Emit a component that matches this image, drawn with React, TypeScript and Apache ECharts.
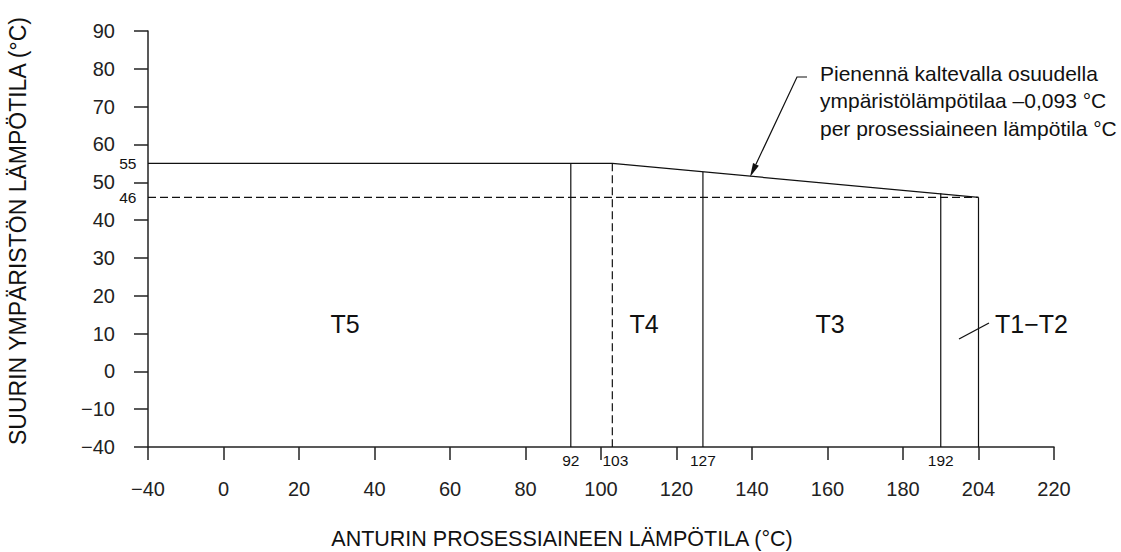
import React, { useEffect, useRef } from "react";
import * as echarts from "echarts";

// Axis ticks (the drawing uses a broken scale: ticks are evenly spaced)
const xTickValues = [-40, 0, 20, 40, 60, 80, 100, 120, 140, 160, 180, 204, 220];
const yTickValues = [-40, -10, 0, 10, 20, 30, 40, 50, 60, 70, 80, 90];

// Limit curves (process temperature, max ambient temperature)
const upperLimit: [number, number][] = [[-40, 55], [103, 55], [204, 46]];
const lowerLimit: [number, number][] = [[-40, 46], [204, 46]];

// Temperature class boundaries
const boundaryX = [92, 103, 127, 192, 204];
const boundaryTop = [55, 55, 52.7, 47.1, 46];
const boundaryDashed = [false, true, false, false, false];
const boundaryLabelled = [true, true, true, true, false];
const boundaryBottom = -40;

const zoneLabels = ["T5", "T4", "T3", "T1−T2"];
const noteLines = [
  "Pienennä kaltevalla osuudella",
  "ympäristölämpötilaa –0,093 °C",
  "per prosessiaineen lämpötila °C",
];
const xName = "ANTURIN PROSESSIAINEEN LÄMPÖTILA (°C)";
const yName = "SUURIN YMPÄRISTÖN LÄMPÖTILA (°C)";

function brokenScale(ticks: number[], step: number, start: number) {
  return (v: number) => {
    for (let i = 0; i < ticks.length - 1; i++) {
      if (v <= ticks[i + 1] || i === ticks.length - 2) {
        const t = (v - ticks[i]) / (ticks[i + 1] - ticks[i]);
        return start + step * (i + t);
      }
    }
    return start;
  };
}
const sx = brokenScale(xTickValues, 20, -20);
const sy = brokenScale(yTickValues, 10, -20);
const fmt = (n: number) => String(n).replace("-", "\u2212");

const FONT = "Liberation Sans, Arial, sans-serif";
const INK = "#111";

export default function App() {
  const ref = useRef<HTMLDivElement>(null);
  useEffect(() => {
    document.body.style.margin = "0";
    const chart = echarts.init(ref.current!, null, { renderer: "svg" });

    const smallLabel = (text: string, position: string, distance: number, offset: number[] = [0, 0]) => ({
      show: true,
      position,
      distance,
      offset,
      formatter: text,
      color: INK,
      fontFamily: FONT,
      fontSize: 15.5,
    });

    const base = {
      type: "line",
      symbol: "circle",
      symbolSize: 1,
      itemStyle: { color: "rgba(0,0,0,0)" },
      silent: true,
      emphasis: { disabled: true },
      z: 3,
    };

    const series: any[] = [
      {
        ...base,
        data: upperLimit.map((p, i) => ({
          value: [sx(p[0]), sy(p[1])],
          label: i === 0 ? smallLabel(String(p[1]), "left", 11) : { show: false },
        })),
        lineStyle: { color: INK, width: 1.2 },
      },
      {
        ...base,
        data: lowerLimit.map((p, i) => ({
          value: [sx(p[0]), sy(p[1])],
          label: i === 0 ? smallLabel(String(p[1]), "left", 11) : { show: false },
        })),
        lineStyle: { color: INK, width: 1.2, type: [8, 4] },
      },
      ...boundaryX.map((x, i) => ({
        ...base,
        data: [
          { value: [sx(x), sy(boundaryTop[i])], label: { show: false } },
          {
            value: [sx(x), sy(boundaryBottom)],
            label: boundaryLabelled[i]
              ? smallLabel(String(x), "bottom", 5, x === 103 ? [3, 0] : [0, 0])
              : { show: false },
          },
        ],
        lineStyle: { color: INK, width: 1.2, type: boundaryDashed[i] ? [8, 4] : "solid" },
      })),
    ];

    const tip = [750, 177];
    const dir = [-47, 100];
    const len = Math.hypot(dir[0], dir[1]);
    const u = [dir[0] / len, dir[1] / len];
    const bc = [tip[0] - 14 * u[0], tip[1] - 14 * u[1]];
    const pp = [u[1] * 3.2, -u[0] * 3.2];

    const zoneX = [345, 644, 830, 995];
    const graphic: any[] = [
      ...zoneLabels.map((t, i) => ({
        type: "text",
        x: zoneX[i],
        y: 324,
        style: {
          text: t,
          font: `25px ${FONT}`,
          fill: INK,
          textAlign: i === 3 ? "left" : "center",
          textVerticalAlign: "middle",
        },
        silent: true,
      })),
      {
        type: "line",
        shape: { x1: 959, y1: 339, x2: 989, y2: 323 },
        style: { stroke: INK, lineWidth: 1.2 },
        silent: true,
      },
      ...noteLines.map((t, i) => ({
        type: "text",
        x: 820,
        y: 73 + i * 27.5,
        style: {
          text: t,
          font: `21px ${FONT}`,
          fill: INK,
          textAlign: "left",
          textVerticalAlign: "middle",
        },
        silent: true,
      })),
      {
        type: "polyline",
        shape: { points: [[807, 77], [797, 77], [bc[0], bc[1]]] },
        style: { stroke: INK, lineWidth: 1.2, fill: null },
        silent: true,
      },
      {
        type: "polygon",
        shape: {
          points: [
            tip,
            [bc[0] + pp[0], bc[1] + pp[1]],
            [bc[0] - pp[0], bc[1] - pp[1]],
          ],
        },
        style: { fill: INK },
        silent: true,
      },
    ];

    chart.setOption({
      animation: false,
      backgroundColor: "#fff",
      grid: { left: 148, right: 67, top: 31, bottom: 105, outerBoundsMode: "none", containLabel: false },
      xAxis: {
        type: "value",
        min: -20,
        max: 220,
        interval: 20,
        name: xName,
        nameLocation: "middle",
        nameGap: 81,
        nameTextStyle: { fontFamily: FONT, fontSize: 21.5, color: INK, padding: [0, 78, 0, 0] },
        axisLine: { onZero: false, lineStyle: { color: "#222", width: 1.5 } },
        axisTick: { inside: false, length: 13, lineStyle: { color: "#222", width: 1.5 } },
        axisLabel: {
          margin: 32,
          fontFamily: FONT,
          fontSize: 20,
          color: "#222",
          formatter: (v: number) => fmt(xTickValues[Math.round((v + 20) / 20)]),
        },
        splitLine: { show: false },
      },
      yAxis: {
        type: "value",
        min: -20,
        max: 90,
        interval: 10,
        name: yName,
        nameLocation: "middle",
        nameGap: 119,
        nameTextStyle: { fontFamily: FONT, fontSize: 23, color: INK, padding: [0, 0, 0, 16] },
        axisLine: { show: true, onZero: false, lineStyle: { color: "#222", width: 1.5 } },
        axisTick: { show: true, inside: false, length: 14, lineStyle: { color: "#222", width: 1.5 } },
        axisLabel: {
          margin: 33,
          fontFamily: FONT,
          fontSize: 20,
          color: "#222",
          formatter: (v: number) => fmt(yTickValues[Math.round((v + 20) / 10)]),
        },
        splitLine: { show: false },
      },
      series,
      graphic,
    });

    return () => chart.dispose();
  }, []);

  return <div ref={ref} style={{ width: 1121, height: 552 }} />;
}
